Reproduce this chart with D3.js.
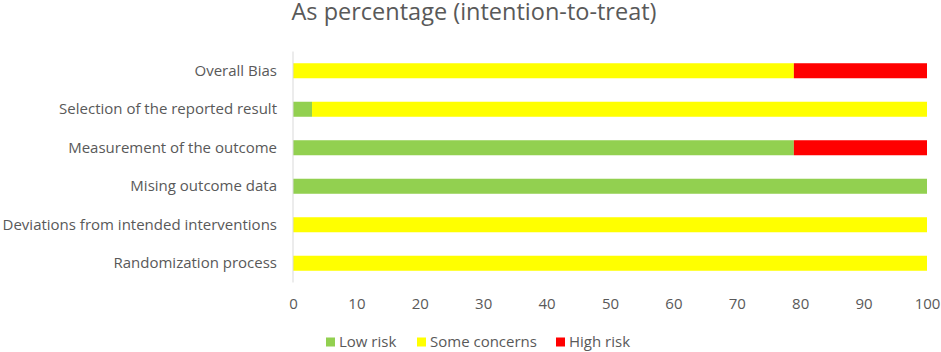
<!DOCTYPE html>
<html><head><meta charset="utf-8">
<script src="https://cdn.jsdelivr.net/npm/d3@7"></script>
<style>body{margin:0;background:#fff;}svg{display:block;}</style>
</head><body>
<svg id="c" width="941" height="352"></svg>
<script>
const categories = ["Overall Bias","Selection of the reported result","Measurement of the outcome","Mising outcome data","Deviations from intended interventions","Randomization process"];
const seriesNames = ["Low risk","Some concerns","High risk"];
const lowRisk = [0, 3, 79, 100, 0, 0];
const someConcerns = [79, 97, 0, 0, 100, 100];
const highRisk = [21, 0, 21, 0, 0, 0];
const xTicks = [0,10,20,30,40,50,60,70,80,90,100];
const colors = ["#92d050","#ffff00","#ff0000"];

const svg = d3.select("#c");
const font = "'Open Sans', sans-serif";
const m = {left:293, right:14, top:51.5, bottom:69.5};
const W = 941, H = 352;
const x = d3.scaleLinear().domain([0,100]).range([m.left, W-m.right]);
const y = d3.scaleBand().domain(categories).range([m.top, H-m.bottom]).paddingInner(0.61).paddingOuter(0.305);

svg.append("text").attr("x",474).attr("y",20).attr("text-anchor","middle")
  .attr("font-family",font).attr("font-size",23.5).attr("fill","#595959").text("As percentage (intention-to-treat)");

const rows = categories.map((c,i)=>({cat:c, vals:[lowRisk[i], someConcerns[i], highRisk[i]]}));
const stack = d3.stack().keys([0,1,2]).value((d,k)=>d.vals[k]);
const layers = stack(rows);
svg.append("g").selectAll("g").data(layers).join("g").attr("fill",(d,i)=>colors[i])
  .selectAll("rect").data(d=>d).join("rect")
  .attr("x",d=>x(d[0])).attr("width",d=>x(d[1])-x(d[0]))
  .attr("y",d=>y(d.data.cat)).attr("height",y.bandwidth());

svg.append("line").attr("x1",x(0)).attr("x2",x(0)).attr("y1",m.top).attr("y2",H-m.bottom)
  .attr("stroke","#d9d9d9").attr("stroke-width",1);

const ya = svg.append("g").attr("transform",`translate(${x(0)},0)`).call(d3.axisLeft(y).tickSize(0).tickPadding(16));
ya.select(".domain").remove();
ya.selectAll("text").attr("font-family",font).attr("font-size",15).attr("fill","#595959");

const xa = svg.append("g").attr("transform",`translate(0,${H-m.bottom})`).call(d3.axisBottom(x).tickValues(xTicks).tickSize(0).tickPadding(16));
xa.select(".domain").remove();
xa.selectAll("text").attr("font-family",font).attr("font-size",15).attr("fill","#595959");

const legSq = [326, 417, 556];
const lg = svg.append("g");
seriesNames.forEach((n,i)=>{
  lg.append("rect").attr("x",legSq[i]).attr("y",337.5).attr("width",9).attr("height",9).attr("fill",colors[i]);
  lg.append("text").attr("x",legSq[i]+13).attr("y",347).attr("font-family",font).attr("font-size",15).attr("fill","#595959").text(n);
});
</script>
</body></html>
